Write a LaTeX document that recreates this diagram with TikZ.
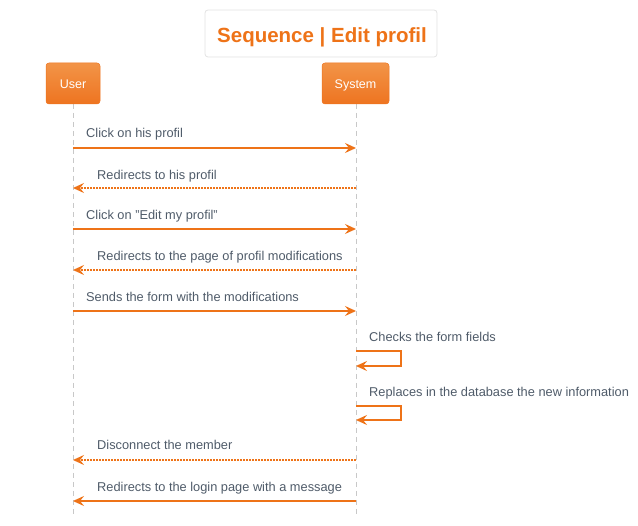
\documentclass[tikz,border=0pt]{standalone}
\usepackage{fontspec}
\setmainfont{Liberation Sans}
\usetikzlibrary{arrows.meta,calc}
\definecolor{orng}{HTML}{EE7318}
\definecolor{orngtop}{HTML}{F29448}
\definecolor{orngbot}{HTML}{EE7420}
\definecolor{txtgray}{HTML}{4F5B69}
\definecolor{lifegray}{HTML}{C8C8C8}
\definecolor{titleborder}{HTML}{E2E2E2}
\tikzset{
  actor/.style={rounded corners=3pt, top color=orngtop, bottom color=orngbot, draw=orngbot, line width=0.5pt,
    inner sep=0pt, minimum height=41pt, anchor=center},
  actortext/.style={text=white, font=\fontsize{12.5}{14}\selectfont, inner sep=0pt, anchor=base},
  lifeline/.style={draw=lifegray, dash pattern=on 5pt off 4pt, line width=0.8pt},
  msg/.style={draw=orng, line width=2.7pt, -{Stealth[length=11pt,width=10pt,inset=4pt]}},
  reply/.style={msg, dash pattern=on 2pt off 1pt},
  lbl/.style={text=txtgray, font=\fontsize{12.8}{14}\selectfont, anchor=base west, inner sep=0pt},
}
\begin{document}
\begin{tikzpicture}[x=1pt,y=-1pt]
\useasboundingbox (0,0) rectangle (638,526);
\node[draw=titleborder, line width=0.8pt, rounded corners=3pt, fill=white, minimum width=232pt, minimum height=47pt] (title) at (321,33.5) {};
\node[text=orng, font=\fontsize{20.5}{24}\selectfont\bfseries, inner sep=0pt, anchor=base] (titletext) at (322,42.5) {Sequence | Edit profil};
\coordinate (ubot) at (73,517);
\coordinate (sbot) at (356,517);
\draw[lifeline] (73,104) -- (ubot);
\draw[lifeline] (356,104) -- (sbot);
\node[actor, minimum width=54pt] (user) at (73,83.5) {};
\node[actortext] (usertext) at (73,89) {User};
\node[actor, minimum width=67pt] (system) at (355.5,83.5) {};
\node[actortext] (systemtext) at (355.5,89) {System};
% message anchors
\foreach \n/\y in {1/148,2/188,3/229,4/270,5/311,8/460,9/501}{
  \coordinate (u\n) at (73,\y);
  \coordinate (s\n) at (356,\y);
}
\draw[msg] (u1) -- (s1);
\node[lbl] (l1) at (86,138) {Click on his profil};
\draw[reply] (s2) -- (u2);
\node[lbl] (l2) at (97,180) {Redirects to his profil};
\draw[msg] (u3) -- (s3);
\node[lbl] (l3) at (86,220) {Click on "Edit my profil"};
\draw[reply] (s4) -- (u4);
\node[lbl] (l4) at (97,261) {Redirects to the page of profil modifications};
\draw[msg] (u5) -- (s5);
\node[lbl] (l5) at (86,302) {Sends the form with the modifications};
% self messages
\coordinate (a6) at (356,351); \coordinate (b6) at (356,366);
\draw[draw=orng, line width=2.7pt, -{Stealth[length=11pt,width=10pt,inset=4pt]}] (a6) -- ++(45,0) |- (b6);
\node[lbl] (l6) at (369,342) {Checks the form fields};
\coordinate (a7) at (356,406); \coordinate (b7) at (356,420);
\draw[draw=orng, line width=2.7pt, -{Stealth[length=11pt,width=10pt,inset=4pt]}] (a7) -- ++(45,0) |- (b7);
\node[lbl] (l7) at (369,397) {Replaces in the database the new information};
\draw[reply] (s8) -- (u8);
\node[lbl] (l8) at (97,450) {Disconnect the member};
\draw[msg] (s9) -- (u9);
\node[lbl] (l9) at (97,492) {Redirects to the login page with a message};
\end{tikzpicture}
\end{document}
